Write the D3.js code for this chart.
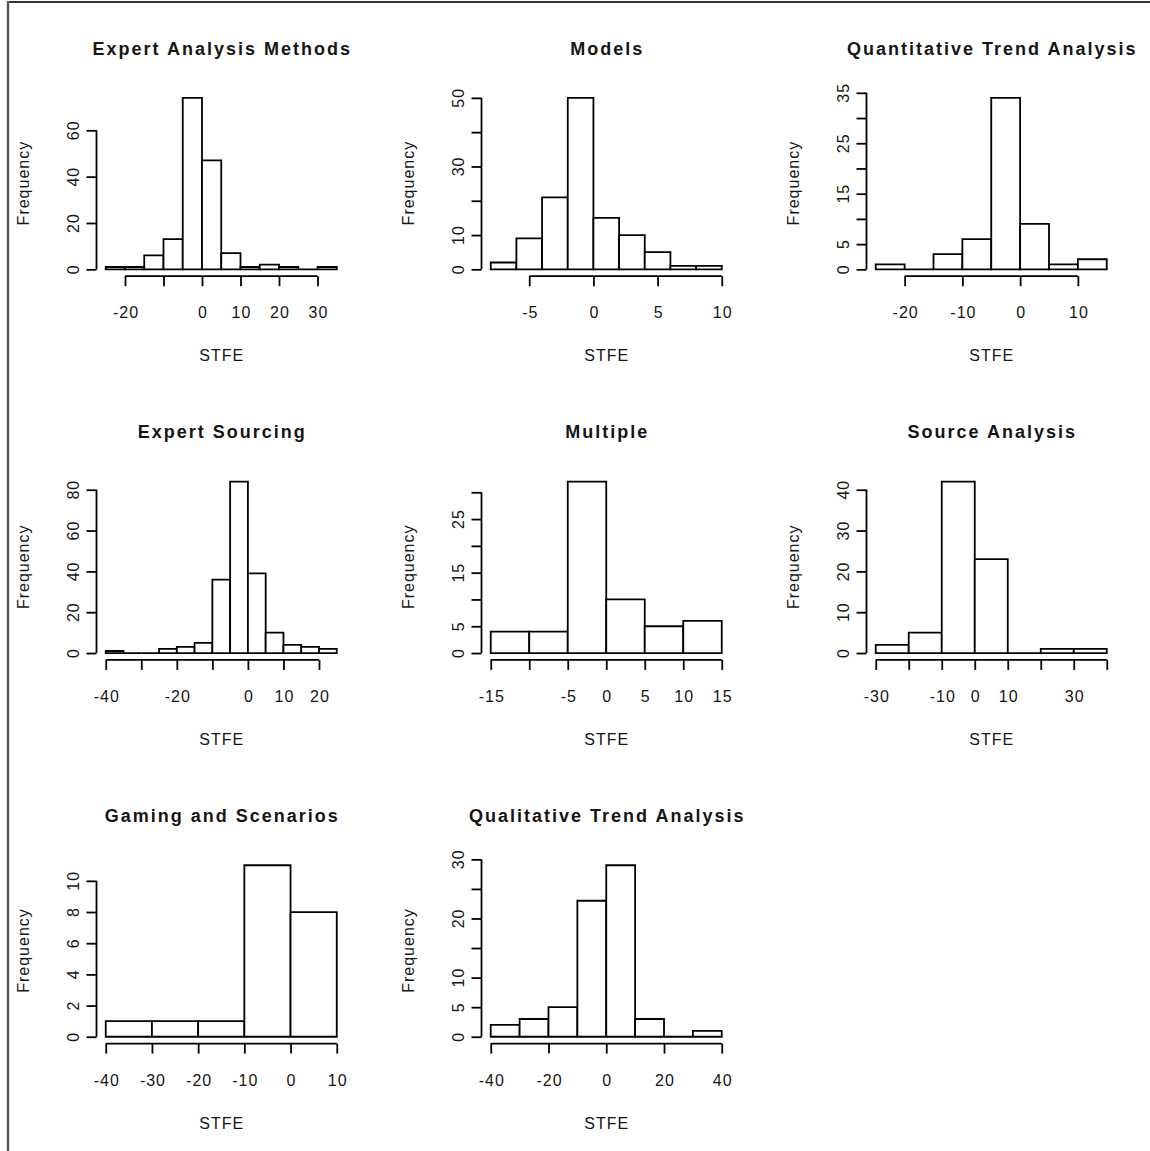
<!DOCTYPE html>
<html>
<head>
<meta charset="utf-8">
<script src="https://cdn.jsdelivr.net/npm/d3@7"></script>
<style>
  body { margin: 0; background: #fff; }
  svg text { font-family: "Liberation Sans", Arial, sans-serif; fill: #151515; }
</style>
</head>
<body>
<svg id="chart" width="1150" height="1151"></svg>
<script>
// titles, in the order R's mfrow fills them (row by row)
const titles = ['Expert Analysis Methods', 'Models', 'Quantitative Trend Analysis',
  'Expert Sourcing', 'Multiple', 'Source Analysis',
  'Gaming and Scenarios', 'Qualitative Trend Analysis']

// bin edges + counts
const eamBreaks = [-25, -20, -15, -10, -5, 0, 5, 10, 15, 20, 25, 30, 35]
const eamCounts = [1, 1, 6, 13, 74, 47, 7, 1, 2, 1, 0, 1]
const modBreaks = [-8, -6, -4, -2, 0, 2, 4, 6, 8, 10]
const modCounts = [2, 9, 21, 50, 15, 10, 5, 1, 1]
const qtaBreaks = [-25, -20, -15, -10, -5, 0, 5, 10, 15]
const qtaCounts = [1, 0, 3, 6, 34, 9, 1, 2]
const esBreaks = [-40, -35, -30, -25, -20, -15, -10, -5, 0, 5, 10, 15, 20, 25]
const esCounts = [1, 0, 0, 2, 3, 5, 36, 84, 39, 10, 4, 3, 2]
const mulBreaks = [-15, -10, -5, 0, 5, 10, 15]
const mulCounts = [4, 4, 32, 10, 5, 6]
const saBreaks = [-30, -20, -10, 0, 10, 20, 30, 40]
const saCounts = [2, 5, 42, 23, 0, 1, 1]
const gsBreaks = [-40, -30, -20, -10, 0, 10]
const gsCounts = [1, 1, 1, 11, 8]
const qlBreaks = [-40, -30, -20, -10, 0, 10, 20, 30, 40]
const qlCounts = [2, 3, 5, 23, 29, 3, 0, 1]

// axis ticks, and the tick labels R actually printed (overlapping ones get dropped)
const eamXTicks = [-20, -10, 0, 10, 20, 30]
const eamXLabels = [-20, 0, 10, 20, 30]
const eamYTicks = [0, 20, 40, 60]
const eamYLabels = [0, 20, 40, 60]
const modXTicks = [-5, 0, 5, 10]
const modXLabels = [-5, 0, 5, 10]
const modYTicks = [0, 10, 20, 30, 40, 50]
const modYLabels = [0, 10, 30, 50]
const qtaXTicks = [-20, -10, 0, 10]
const qtaXLabels = [-20, -10, 0, 10]
const qtaYTicks = [0, 5, 10, 15, 20, 25, 30, 35]
const qtaYLabels = [0, 5, 15, 25, 35]
const esXTicks = [-40, -30, -20, -10, 0, 10, 20]
const esXLabels = [-40, -20, 0, 10, 20]
const esYTicks = [0, 20, 40, 60, 80]
const esYLabels = [0, 20, 40, 60, 80]
const mulXTicks = [-15, -10, -5, 0, 5, 10, 15]
const mulXLabels = [-15, -5, 0, 5, 10, 15]
const mulYTicks = [0, 5, 10, 15, 20, 25, 30]
const mulYLabels = [0, 5, 15, 25]
const saXTicks = [-30, -20, -10, 0, 10, 20, 30, 40]
const saXLabels = [-30, -10, 0, 10, 30]
const saYTicks = [0, 10, 20, 30, 40]
const saYLabels = [0, 10, 20, 30, 40]
const gsXTicks = [-40, -30, -20, -10, 0, 10]
const gsXLabels = [-40, -30, -20, -10, 0, 10]
const gsYTicks = [0, 2, 4, 6, 8, 10]
const gsYLabels = [0, 2, 4, 6, 8, 10]
const qlXTicks = [-40, -20, 0, 20, 40]
const qlXLabels = [-40, -20, 0, 20, 40]
const qlYTicks = [0, 5, 10, 15, 20, 25, 30]
const qlYLabels = [0, 5, 10, 20, 30]

const xTitle = 'STFE'
const yTitle = 'Frequency'

const panels = [
  { breaks: eamBreaks, counts: eamCounts, xTicks: eamXTicks, xLabels: eamXLabels, yTicks: eamYTicks, yLabels: eamYLabels },
  { breaks: modBreaks, counts: modCounts, xTicks: modXTicks, xLabels: modXLabels, yTicks: modYTicks, yLabels: modYLabels },
  { breaks: qtaBreaks, counts: qtaCounts, xTicks: qtaXTicks, xLabels: qtaXLabels, yTicks: qtaYTicks, yLabels: qtaYLabels },
  { breaks: esBreaks, counts: esCounts, xTicks: esXTicks, xLabels: esXLabels, yTicks: esYTicks, yLabels: esYLabels },
  { breaks: mulBreaks, counts: mulCounts, xTicks: mulXTicks, xLabels: mulXLabels, yTicks: mulYTicks, yLabels: mulYLabels },
  { breaks: saBreaks, counts: saCounts, xTicks: saXTicks, xLabels: saXLabels, yTicks: saYTicks, yLabels: saYLabels },
  { breaks: gsBreaks, counts: gsCounts, xTicks: gsXTicks, xLabels: gsXLabels, yTicks: gsYTicks, yLabels: gsYLabels },
  { breaks: qlBreaks, counts: qlCounts, xTicks: qlXTicks, xLabels: qlXLabels, yTicks: qlYTicks, yLabels: qlYLabels }
]
panels.forEach(function (p, i) { p.title = titles[i] })

// layout (px)
let plotLeft = 96.5
let plotTop = 91
let plotW = 249.5
let plotH = 185.2
let colStep = 385
let rowStep = 383.7
let tickLen = 10
let lineW = 1.8
let labelStyle = 'font-size:16px;letter-spacing:1px;'
let titleStyle = 'font-size:18px;font-weight:bold;letter-spacing:2px;'

let svg = d3.select('#chart')

// frame lines of the screenshot
svg.append('line')
  .attr('x1', 7).attr('x2', 1150).attr('y1', 2).attr('y2', 2)
  .attr('stroke', '#333').attr('stroke-width', 2)
svg.append('line')
  .attr('x1', 8).attr('x2', 8).attr('y1', 1).attr('y2', 1151)
  .attr('stroke', '#555').attr('stroke-width', 2.4)

panels.forEach(function (p, i) {
  let col = i % 3
  let row = Math.floor(i / 3)
  let lo = p.breaks[0]
  let hi = p.breaks[p.breaks.length - 1]
  let pad = (hi - lo) * 0.04
  let maxC = d3.max(p.counts)

  let x = d3.scaleLinear().domain([lo - pad, hi + pad]).range([0, plotW])
  let y = d3.scaleLinear().domain([-0.04 * maxC, 1.04 * maxC]).range([plotH, 0])

  let g = svg.append('g')
    .attr('transform', translation(plotLeft + col * colStep, plotTop + row * rowStep))

  // BARS (paths so empty bins still show as a line on 0)
  g.selectAll('path.bar')
    .data(p.counts)
    .enter()
    .append('path')
    .attr('class', 'bar')
    .attr('d', function (d, j) {
      let x1 = x(p.breaks[j])
      let x2 = x(p.breaks[j + 1])
      return 'M' + x1 + ',' + y(0) + 'V' + y(d) + 'H' + x2 + 'V' + y(0) + 'Z'
    })
    .attr('fill', '#fff')
    .attr('stroke', '#000')
    .attr('stroke-width', lineW)

  // X AXIS
  let xAxis = d3.axisBottom(x)
    .tickValues(p.xTicks)
    .tickSize(tickLen)
    .tickFormat(function (d) { return p.xLabels.indexOf(d) >= 0 ? String(d) : '' })
  let gx = g.append('g')
    .attr('transform', translation(0, plotH))
    .call(xAxis)
  styleAxis(gx)
  gx.append('line')
    .attr('x1', x(p.xTicks[0])).attr('x2', x(p.xTicks[p.xTicks.length - 1]))
    .attr('stroke', '#000').attr('stroke-width', lineW)
  gx.selectAll('.tick text')
    .attr('y', 42)
    .attr('dy', null)
    .attr('dx', 0.5)

  // Y AXIS
  let yAxis = d3.axisLeft(y)
    .tickValues(p.yTicks)
    .tickSize(tickLen)
    .tickFormat(function (d) { return p.yLabels.indexOf(d) >= 0 ? String(d) : '' })
  let gy = g.append('g').call(yAxis)
  styleAxis(gy)
  gy.append('line')
    .attr('y1', y(p.yTicks[0])).attr('y2', y(p.yTicks[p.yTicks.length - 1]))
    .attr('stroke', '#000').attr('stroke-width', lineW)
  gy.selectAll('.tick text')
    .attr('x', 0)
    .attr('y', 0)
    .attr('dy', null)
    .attr('dx', 0.5)
    .attr('text-anchor', 'middle')
    .attr('transform', 'translate(-18,0) rotate(-90)')

  // LABELS
  g.append('text')
    .attr('x', plotW / 2)
    .attr('y', -36.5)
    .attr('dx', 1)
    .attr('text-anchor', 'middle')
    .attr('style', titleStyle)
    .text(p.title)
  g.append('text')
    .attr('x', plotW / 2)
    .attr('y', plotH + 85)
    .attr('dx', 0.5)
    .attr('text-anchor', 'middle')
    .attr('style', labelStyle)
    .text(xTitle)
  g.append('text')
    .attr('transform', translation(-67.5, plotH / 2) + ' rotate(-90)')
    .attr('dx', 0.5)
    .attr('text-anchor', 'middle')
    .attr('style', labelStyle)
    .text(yTitle)
})

function styleAxis (sel) {
  sel.attr('font-size', null).attr('font-family', null).attr('color', '#000')
  sel.select('.domain').remove()
  sel.selectAll('.tick line').attr('stroke-width', lineW)
  sel.selectAll('.tick text').attr('style', labelStyle)
}

function translation (x, y) {
  return 'translate(' + x + ',' + y + ')'
}
</script>
</body>
</html>
